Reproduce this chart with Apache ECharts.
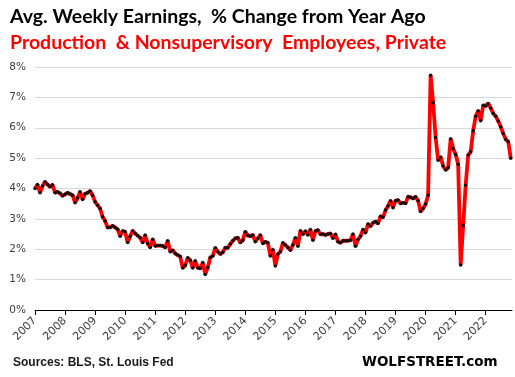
<!DOCTYPE html>
<html>
<head>
<meta charset="utf-8">
<script src="https://cdn.jsdelivr.net/npm/echarts@6/dist/echarts.min.js"></script>
<style>
  html, body { margin: 0; padding: 0; background: #fff; }
  #chart { width: 515px; height: 377px; }
</style>
</head>
<body>
<div id="chart"></div>
<script>
// tick labels, one per January
const years = ['2007', '2008', '2009', '2010', '2011', '2012', '2013', '2014',
    '2015', '2016', '2017', '2018', '2019', '2020', '2021', '2022'];

// monthly % change from year ago, Jan 2007 onward
const pctChange = [
    4.00, 4.13, 3.86, 4.08, 4.22, 4.13, 4.06, 4.12, 3.86, 3.89, 3.84, 3.76, // 2007
    3.81, 3.86, 3.82, 3.78, 3.53, 3.69, 3.89, 3.64, 3.83, 3.86, 3.92, 3.78, // 2008
    3.56, 3.45, 3.34, 3.07, 2.93, 2.72, 2.72, 2.77, 2.72, 2.66, 2.43, 2.60, // 2009
    2.58, 2.22, 2.43, 2.61, 2.52, 2.45, 2.38, 2.22, 2.47, 2.19, 2.06, 2.33, // 2010
    2.11, 2.12, 2.12, 2.11, 2.06, 2.28, 1.92, 1.97, 1.86, 1.81, 1.76, 1.38, // 2011
    1.47, 1.72, 1.64, 1.38, 1.62, 1.39, 1.37, 1.56, 1.17, 1.40, 1.73, 1.78, // 2012
    2.05, 1.92, 1.84, 1.90, 2.05, 2.05, 2.17, 2.28, 2.36, 2.38, 2.22, 2.30, // 2013
    2.58, 2.45, 2.43, 2.47, 2.25, 2.36, 2.47, 2.19, 2.25, 2.21, 1.78, 1.99, // 2014
    1.45, 1.84, 1.92, 2.21, 2.14, 2.06, 1.97, 2.14, 2.38, 2.10, 2.61, 2.49, // 2015
    2.60, 2.47, 2.65, 2.30, 2.60, 2.63, 2.49, 2.50, 2.47, 2.50, 2.52, 2.36, // 2016
    2.49, 2.25, 2.21, 2.28, 2.28, 2.28, 2.30, 2.50, 2.10, 2.32, 2.43, 2.65, // 2017
    2.54, 2.83, 2.76, 2.87, 2.91, 2.85, 3.09, 3.05, 3.29, 3.42, 3.60, 3.37, // 2018
    3.60, 3.62, 3.51, 3.53, 3.51, 3.73, 3.71, 3.67, 3.73, 3.60, 3.24, 3.34, // 2019
    3.49, 3.78, 7.73, 6.82, 5.68, 4.93, 5.04, 4.74, 4.61, 4.68, 5.64, 5.32, // 2020
    5.12, 4.80, 1.48, 2.78, 4.11, 5.10, 5.21, 5.90, 6.38, 6.56, 6.23, 6.74, // 2021
    6.72, 6.80, 6.65, 6.47, 6.38, 6.22, 6.03, 5.81, 5.62, 5.54, 5.00        // 2022
];

const chart = echarts.init(document.getElementById('chart'));

// x = months since Jan 2007
const seriesData = pctChange.map((v, i) => [i, v]);
const yearTicks = years.map((y, i) => i * 12);

const option = {
    animation: false,
    backgroundColor: '#ffffff',
    title: [
        {
            text: 'Avg. Weekly Earnings,  % Change from Year Ago',
            left: 10,
            top: 7,
            padding: 0,
            textStyle: { fontFamily: 'Lato', fontWeight: 'bold', fontSize: 19.5, color: '#000' },
        },
        {
            text: 'Production  & Nonsupervisory  Employees, Private',
            left: 10,
            top: 33,
            padding: 0,
            textStyle: { fontFamily: 'Lato', fontWeight: 'bold', fontSize: 19.5, color: '#ff0000' },
        },
        {
            text: 'Sources: BLS, St. Louis Fed',
            left: 13,
            top: 357,
            padding: 0,
            textStyle: { fontFamily: 'Liberation Sans', fontWeight: 'bold', fontSize: 12, color: '#1a1a1a' },
        },
        {
            text: 'WOLFSTREET.com',
            left: 362,
            top: 355,
            padding: 0,
            textStyle: { fontFamily: 'DejaVu Sans', fontWeight: 'bold', fontSize: 13.5, color: '#000' },
        },
    ],
    grid: {
        left: 35,
        right: 3,
        top: 67,
        bottom: 67,
    },
    xAxis: {
        type: 'value',
        min: 0,
        max: 190.5,
        axisLine: { show: true, lineStyle: { color: '#000', width: 1 } },
        axisTick: {
            show: true,
            inside: false,
            length: 5,
            customValues: yearTicks,
            lineStyle: { color: '#000' },
        },
        axisLabel: {
            customValues: yearTicks,
            rotate: 45,
            margin: 9,
            fontFamily: 'DejaVu Sans',
            fontSize: 11,
            color: '#404040',
            formatter: (v) => years[Math.round(v / 12)] || '',
        },
        splitLine: { show: false },
    },
    yAxis: {
        type: 'value',
        min: 0,
        max: 8,
        interval: 1,
        axisLine: { show: false },
        axisTick: { show: false },
        axisLabel: {
            margin: 9,
            fontFamily: 'DejaVu Sans',
            fontSize: 10.5,
            color: '#404040',
            formatter: (v) => v + '%',
        },
        splitLine: { show: true, lineStyle: { color: '#d9d9d9', width: 1 } },
    },
    series: [
        {
            type: 'line',
            data: seriesData,
            symbol: 'circle',
            symbolSize: 3.5,
            showAllSymbol: true,
            itemStyle: { color: '#111', borderWidth: 0 },
            lineStyle: { color: '#ff0000', width: 3.8 },
            z: 3,
        },
    ],
};

chart.setOption(option);
</script>
</body>
</html>
